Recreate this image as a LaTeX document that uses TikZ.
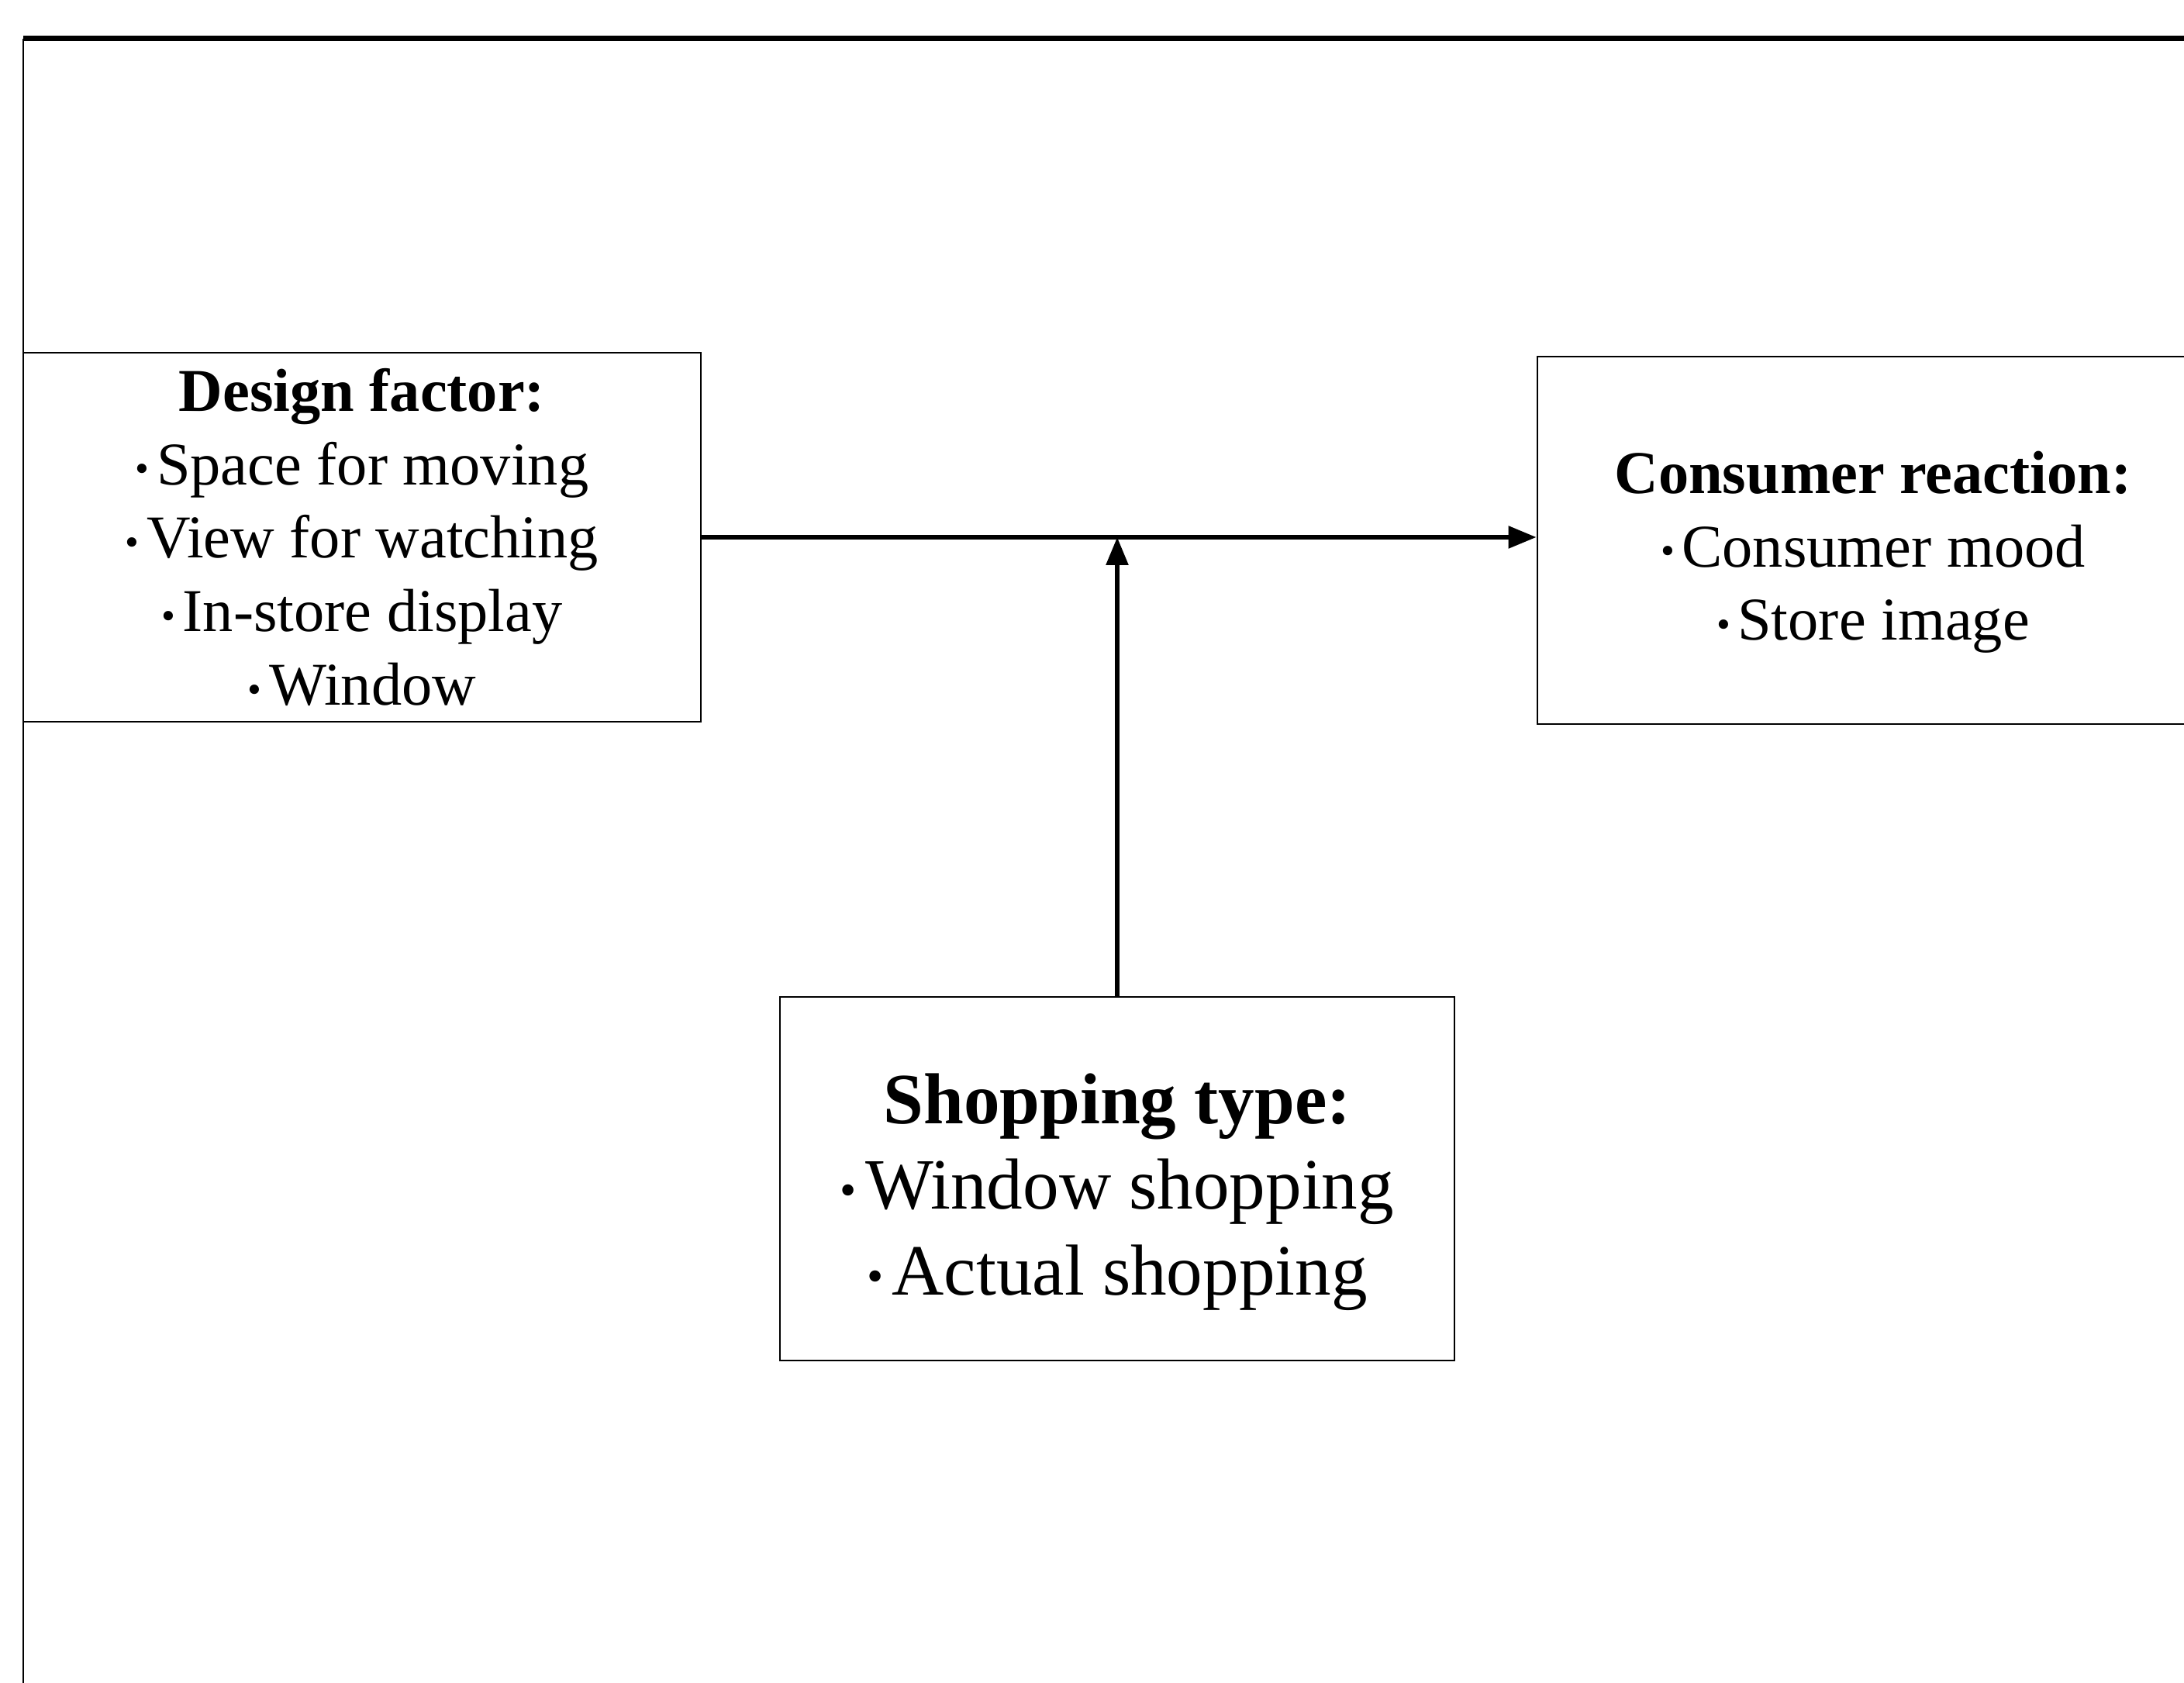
\documentclass[tikz,border=0pt]{standalone}
\usepackage{fontspec}
\setmainfont{Liberation Serif}
\usepackage{tikz}
\usetikzlibrary{arrows.meta,positioning,calc}

\newcommand{\bul}{\raisebox{0.1ex}{\scalebox{0.65}{\textbullet}}\hspace{0.12em}}

\begin{document}
\begin{tikzpicture}[
    box/.style={draw, line width=0.8pt, align=center, inner sep=0pt},
    small/.style={font=\fontsize{22.3}{27}\selectfont},
    big/.style={font=\fontsize{26.5}{31.5}\selectfont},
    link/.style={line width=1.6pt, -{Triangle[length=0.36cm, width=0.28cm]}}
]
    \useasboundingbox (0,0) rectangle (28.17,21.71);
    \clip (0,0) rectangle (28.17,21.71);
    \draw[line width=0.8pt] (0.30,-1) -- (0.30,21.21);
    \draw[line width=2pt] (0.30,21.21) -- (29,21.21);

    \node[box, small, minimum width=8.74cm, minimum height=4.76cm] (design) at (4.67,14.78)
        {\textbf{Design factor:}\\ \bul Space for moving\\ \bul View for watching\\ \bul In-store display\\ \bul Window};
    \node[box, small, minimum width=8.66cm, minimum height=4.74cm] (reaction) at (24.16,14.74)
        {\rule{0pt}{0.85cm}\textbf{Consumer reaction:}\\ \bul Consumer mood\\ \bul Store image};
    \node[box, big, minimum width=8.70cm, minimum height=4.69cm] (shop) at (14.41,6.505)
        {\rule{0pt}{0.99cm}\textbf{Shopping type:}\\ \bul Window shopping\\ \bul Actual shopping};

    \coordinate (join) at (shop.north |- design.east);
    \draw[link] (design.east) -- (design.east -| reaction.west);
    \draw[link] (shop.north) -- (join);
\end{tikzpicture}
\end{document}
